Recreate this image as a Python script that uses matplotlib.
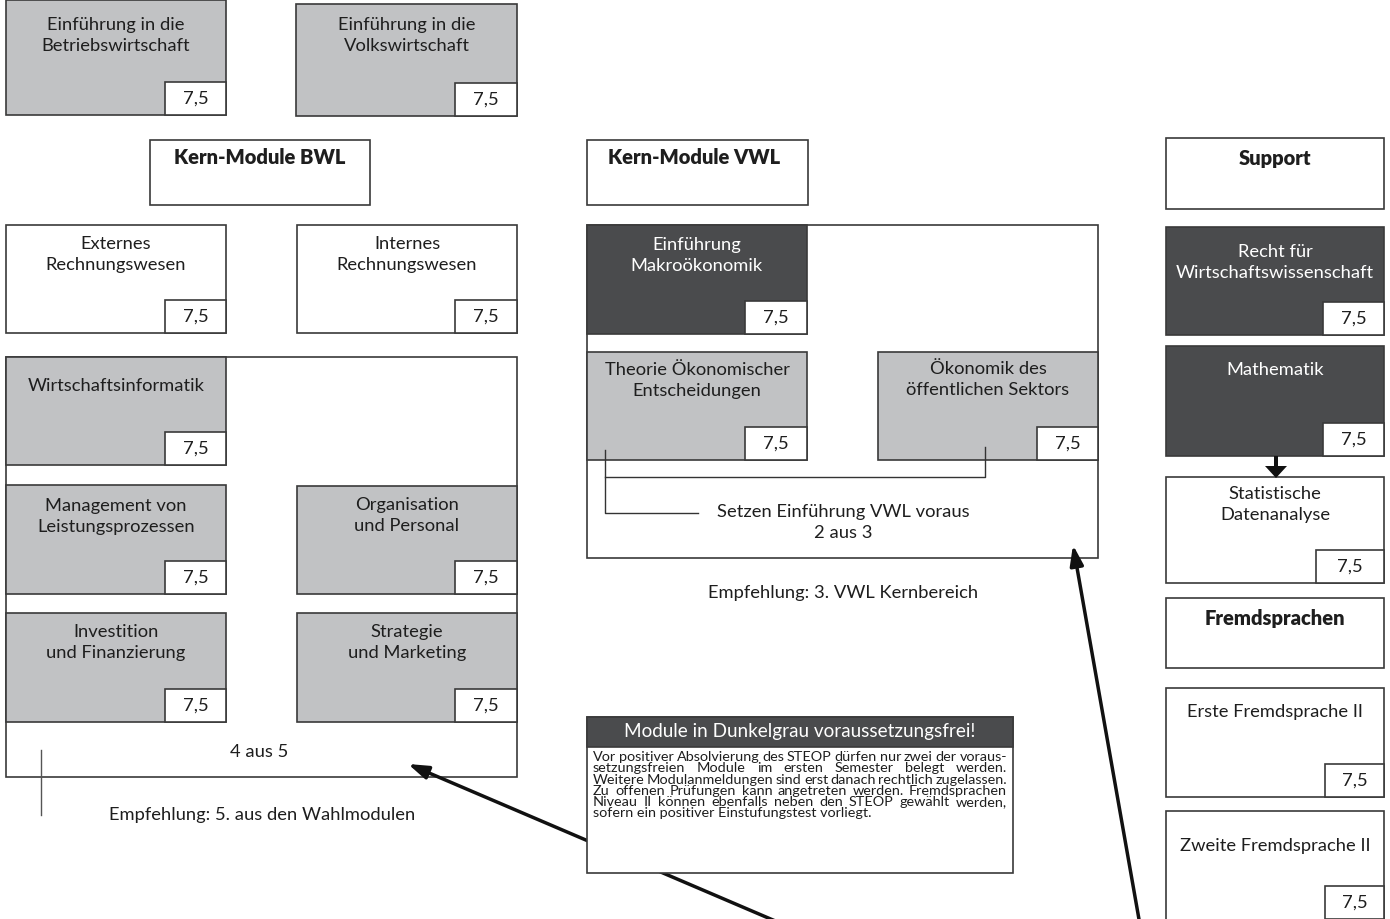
import matplotlib
matplotlib.use("Agg")
import matplotlib.pyplot as plt
from matplotlib.patches import Rectangle

plt.rcParams['font.family'] = ['Lato', 'DejaVu Sans']

# ---------------- data ----------------
module_names = [
    "Einführung in die\nBetriebswirtschaft",
    "Einführung in die\nVolkswirtschaft",
    "Externes\nRechnungswesen",
    "Internes\nRechnungswesen",
    "Wirtschaftsinformatik",
    "Management von\nLeistungsprozessen",
    "Organisation\nund Personal",
    "Investition\nund Finanzierung",
    "Strategie\nund Marketing",
    "Einführung\nMakroökonomik",
    "Theorie Ökonomischer\nEntscheidungen",
    "Ökonomik des\nöffentlichen Sektors",
    "Recht für\nWirtschaftswissenschaft",
    "Mathematik",
    "Statistische\nDatenanalyse",
    "Erste Fremdsprache II",
    "Zweite Fremdsprache II",
]
module_credits = [7.5, 7.5, 7.5, 7.5, 7.5, 7.5, 7.5, 7.5, 7.5,
                  7.5, 7.5, 7.5, 7.5, 7.5, 7.5, 7.5, 7.5]
module_kind = ["light", "light", "white", "white", "light", "light", "light",
               "light", "light", "dark", "light", "light", "dark", "dark",
               "white", "white", "white"]

group_titles = ["Kern-Module BWL", "Kern-Module VWL", "Support", "Fremdsprachen"]
group_notes = ["4 aus 5", "Setzen Einführung VWL voraus\n2 aus 3"]
recommendations = ["Empfehlung: 5. aus den Wahlmodulen",
                   "Empfehlung: 3. VWL Kernbereich"]
note_title = "Module in Dunkelgrau voraussetzungsfrei!"
note_lines = [
    "Vor positiver Absolvierung des STEOP dürfen nur zwei der voraus-",
    "setzungsfreien Module im ersten Semester belegt werden.",
    "Weitere Modulanmeldungen sind erst danach rechtlich zugelassen.",
    "Zu offenen Prüfungen kann angetreten werden. Fremdsprachen",
    "Niveau II können ebenfalls neben den STEOP gewählt werden,",
    "sofern ein positiver Einstufungstest vorliegt.",
]

# ---------------- layout (pixels) ----------------
W, H = 1390, 919
# x0, y0, x1, y1, text_y (first line), credit-box left
module_boxes = [
    (6, 0, 226, 115, 25, 165),
    (296, 4, 517, 116, 25, 455),
    (6, 225, 226, 333, 244, 165),
    (297, 225, 517, 333, 244, 455),
    (6, 357, 226, 465, 386, 165),
    (6, 485, 226, 594, 506, 165),
    (297, 486, 517, 594, 505, 455),
    (6, 613, 226, 722, 632, 165),
    (297, 613, 517, 722, 632, 455),
    (587, 225, 807, 334, 245, 745),
    (587, 352, 807, 460, 370, 745),
    (878, 352, 1098, 460, 369, 1037),
    (1166, 227, 1384, 335, 252, 1323),
    (1166, 346, 1384, 456, 370, 1323),
    (1166, 477, 1384, 583, 494, 1316),
    (1166, 688, 1384, 797, 712, 1325),
    (1166, 811, 1384, 920, 846, 1325),
]
credit_h = 33
group_boxes = [(150, 140, 370, 205), (587, 140, 808, 205),
               (1166, 138, 1384, 209), (1166, 598, 1384, 668)]
group_title_pos = [(260, 158), (694, 158), (1275, 159), (1275, 619)]
containers = [(6, 357, 517, 777), (587, 225, 1098, 558)]
group_note_pos = [(259, 752), (843, 512)]
rec_pos = [(262, 815), (843, 593)]

colors = {"light": "#c1c2c4", "dark": "#4a4b4d", "white": "#ffffff"}
edge = "#3a3a3a"
txt = "#1e1e1e"
FS = 13.2

fig = plt.figure(figsize=(W / 100, H / 100), dpi=100)
ax = fig.add_axes([0, 0, 1, 1])
ax.set_xlim(0, W)
ax.set_ylim(H, 0)
ax.axis('off')


def rect(x0, y0, x1, y1, fc, z=1, lw=1.2, ec=edge):
    ax.add_patch(Rectangle((x0, y0), x1 - x0, y1 - y0, fc=fc, ec=ec, lw=lw, zorder=z))


# containers
for (x0, y0, x1, y1) in containers:
    rect(x0, y0, x1, y1, "white", z=1)

# group title boxes
for (x0, y0, x1, y1), t, (tx, ty) in zip(group_boxes, group_titles, group_title_pos):
    rect(x0, y0, x1, y1, "white", z=2)
    ax.text(tx, ty, t, ha='center', va='center', fontsize=14.5, fontweight='heavy',
            color=txt, zorder=5)

# modules
for name, cr, kind, (x0, y0, x1, y1, ty, cx) in zip(module_names, module_credits,
                                                      module_kind, module_boxes):
    rect(x0, y0, x1, y1, colors[kind], z=3)
    cy1 = min(y1, 919)
    rect(cx, cy1 - credit_h, x1, cy1, "white", z=4)
    tc = "white" if kind == "dark" else txt
    for i, line in enumerate(name.split("\n")):
        ax.text((x0 + x1) / 2, ty + i * 21, line, ha='center', va='center',
                fontsize=FS, color=tc, zorder=5)
    ax.text((cx + x1) / 2, cy1 - credit_h / 2, f"{cr:.1f}".replace(".", ","),
            ha='center', va='center', fontsize=FS, color=txt, zorder=5)

# group notes and recommendations
for t, (tx, ty) in zip(group_notes, group_note_pos):
    for i, line in enumerate(t.split("\n")):
        ax.text(tx, ty + i * 21, line, ha='center', va='center', fontsize=FS,
                color=txt, zorder=5)
for t, (tx, ty) in zip(recommendations, rec_pos):
    ax.text(tx, ty, t, ha='center', va='center', fontsize=FS, color=txt, zorder=5)

# connector lines
lc = "#333333"
ax.plot([41, 41], [750, 815], color="#555555", lw=1, zorder=2)
ax.plot([605, 605, 698], [450, 513, 513], color=lc, lw=1, zorder=6)
ax.plot([985, 985, 605], [447, 477, 477], color=lc, lw=1, zorder=6)

# long arrows
ax.annotate("", xy=(408, 764), xytext=(780, 923),
            arrowprops=dict(arrowstyle='-|>,head_width=0.4,head_length=1.2',
                            lw=2.5, color="#111111", shrinkA=0, shrinkB=0), zorder=7)
ax.annotate("", xy=(1073, 545), xytext=(1140, 925),
            arrowprops=dict(arrowstyle='-|>,head_width=0.4,head_length=1.2',
                            lw=2.5, color="#111111", shrinkA=0, shrinkB=0), zorder=7)
# Mathematik -> Statistik arrow
ax.arrow(1276, 456, 0, 22, width=4, head_width=22, head_length=12,
         length_includes_head=True, fc="#111111", ec="#111111", lw=0, zorder=8)

# note box (drawn over the arrow)
nx0, ny0, nx1, ny1 = 587, 717, 1013, 873
rect(nx0, ny0, nx1, ny1, "white", z=9)
rect(nx0, ny0, nx1, 747, colors["dark"], z=10)
ax.text((nx0 + nx1) / 2, 732, note_title, ha='center', va='center', fontsize=13.6,
        color="white", zorder=11)

renderer = fig.canvas.get_renderer()
left, right = 593, 1007
body_fs = 10.4
for i, line in enumerate(note_lines):
    y = 757 + i * 11.25
    if i == len(note_lines) - 1:
        ax.text(left, y, line, ha='left', va='center', fontsize=body_fs,
                color=txt, zorder=11)
        continue
    words = line.split(" ")
    texts = [ax.text(0, y, w, ha='left', va='center', fontsize=body_fs,
                     color=txt, zorder=11) for w in words]
    widths = [t.get_window_extent(renderer).width for t in texts]
    gap = (right - left - sum(widths)) / (len(words) - 1)
    x = left
    for t, w in zip(texts, widths):
        t.set_x(x)
        x += w + gap

fig.savefig("out.png", dpi=100)
